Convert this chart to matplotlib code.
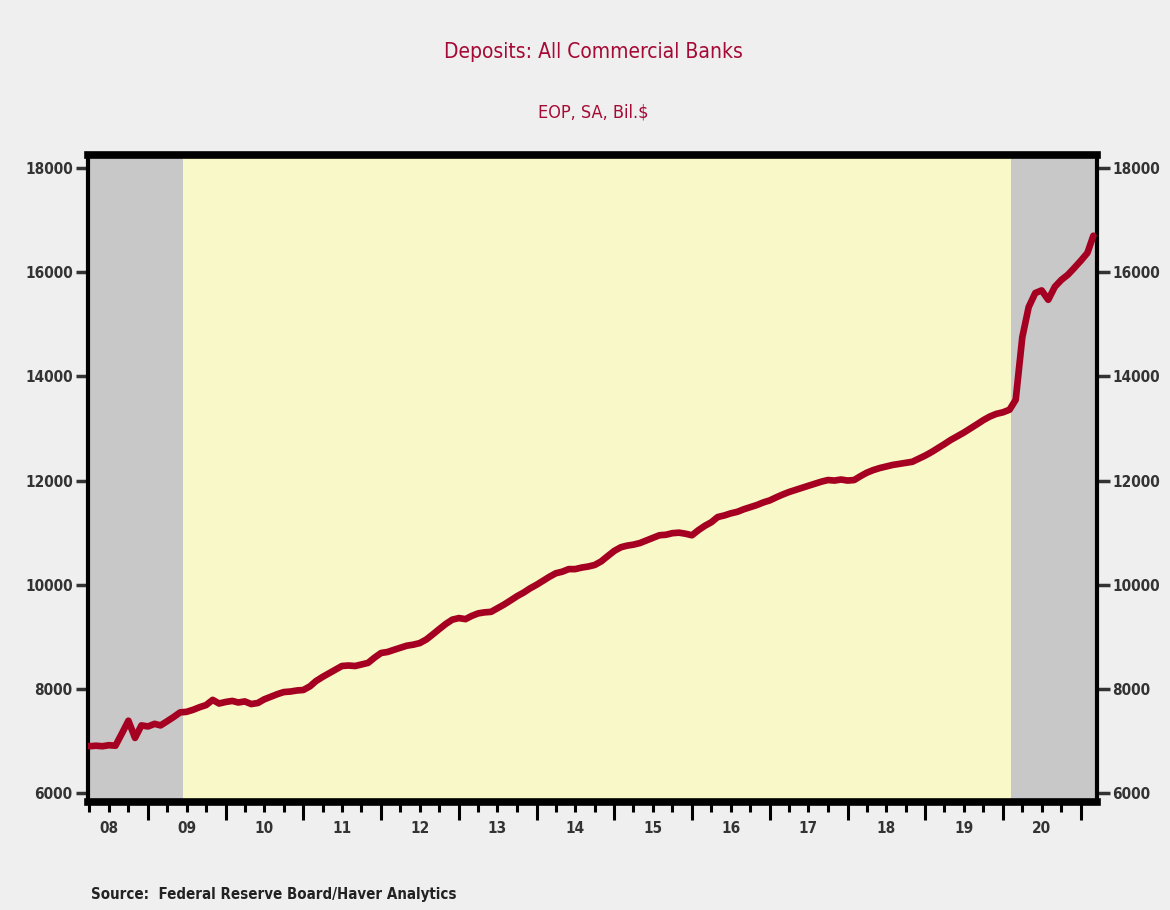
import matplotlib
matplotlib.use("Agg")
import matplotlib.pyplot as plt
import matplotlib.dates as mdates
import pandas as pd

# Monthly deposits, all commercial banks (EOP, SA, Bil.$), Mar 2008 - Mar 2021
start_month = "2008-03-01"
deposits = [
    # 2008 Mar-Dec
    6920, 6900, 6910, 6900, 6920, 6910, 7150, 7390, 7060, 7300,
    # 2009
    7280, 7330, 7300, 7380, 7460, 7550, 7560, 7600, 7650, 7690, 7790, 7720,
    # 2010
    7750, 7770, 7740, 7760, 7710, 7730, 7800, 7850, 7900, 7940, 7950, 7970,
    # 2011
    7980, 8050, 8150, 8230, 8300, 8370, 8440, 8450, 8440, 8470, 8500, 8600,
    # 2012
    8690, 8710, 8750, 8790, 8830, 8850, 8880, 8950, 9050, 9150, 9250, 9330,
    # 2013
    9360, 9340, 9400, 9450, 9470, 9480, 9550, 9620, 9700, 9780, 9850, 9930,
    # 2014
    10000, 10080, 10150, 10220, 10250, 10300, 10300, 10330, 10350, 10380, 10450, 10550,
    # 2015
    10650, 10720, 10750, 10770, 10800, 10850, 10900, 10950, 10960, 10990, 11000, 10980,
    # 2016
    10950, 11050, 11130, 11200, 11300, 11330, 11370, 11400, 11450, 11490, 11530, 11580,
    # 2017
    11620, 11680, 11730, 11780, 11820, 11860, 11900, 11940, 11980, 12010, 12000, 12020,
    # 2018
    12000, 12010, 12080, 12150, 12200, 12240, 12270, 12300, 12320, 12340, 12360, 12420,
    # 2019
    12480, 12550, 12620, 12700, 12780, 12850, 12920, 13000, 13080, 13160, 13230, 13280,
    # 2020
    13310, 13360, 13550, 14750, 15330, 15600, 15650, 15470, 15720, 15850, 15950, 16080,
    # 2021 Jan-Mar
    16220, 16370, 16700,
]

year_labels = ["08", "09", "10", "11", "12", "13", "14", "15", "16", "17", "18", "19", "20"]
y_ticks = [6000, 8000, 10000, 12000, 14000, 16000, 18000]

# Recession periods shaded in gray
recessions = [("2007-12-01", "2009-06-15"), ("2020-02-10", "2021-12-31")]

title_text = "Deposits: All Commercial Banks"
subtitle_text = "EOP, SA, Bil.$"
source_text = "Source:  Federal Reserve Board/Haver Analytics"

dates = pd.date_range(start_month, periods=len(deposits), freq="MS")

fig = plt.figure(figsize=(11.7, 9.1), dpi=100)
fig.patch.set_facecolor("#efefef")

ax = fig.add_axes([0.0752, 0.1187, 0.8624, 0.711])
ax.set_facecolor("#f9f8c8")

x_min = pd.Timestamp("2008-03-25")
x_max = pd.Timestamp("2021-03-18")

for r0, r1 in recessions:
    ax.axvspan(pd.Timestamp(r0), pd.Timestamp(r1), color="#c8c8c8", zorder=0, lw=0)

ax.plot(dates, deposits, color="#a50021", lw=4.8, solid_joinstyle="round",
        solid_capstyle="round", zorder=3, clip_on=True)

ax.set_xlim(x_min, x_max)
ax.set_ylim(5830, 18250)

# Spines: heavy black frame
for side, w in [("top", 5.5), ("bottom", 5.5), ("left", 3), ("right", 3)]:
    ax.spines[side].set_linewidth(w)
    ax.spines[side].set_color("black")

font_kw = dict(family="DejaVu Sans", stretch="condensed")

# Y axis on both sides
ax.set_yticks(y_ticks)
ax.set_yticklabels([str(v) for v in y_ticks])
ax.tick_params(axis="y", which="both", direction="out", length=9, width=2.5,
               left=True, right=True, labelleft=True, labelright=True,
               labelsize=11, colors="#333333", pad=2)
for lab in ax.get_yticklabels():
    lab.set_fontstretch("condensed")
    lab.set_fontweight("bold")

# X axis: year ticks long, quarter ticks short, labels at mid-year
ax.xaxis.set_major_locator(mdates.YearLocator())
ax.xaxis.set_minor_locator(mdates.MonthLocator(bymonth=[4, 7, 10]))
ax.xaxis.set_major_formatter(plt.NullFormatter())
ax.tick_params(axis="x", which="major", direction="out", length=13, width=2.2,
               color="black")
ax.tick_params(axis="x", which="minor", direction="out", length=7, width=2.2,
               color="black")

for i, lab in enumerate(year_labels):
    mid = pd.Timestamp(f"{2008 + i}-07-01")
    ax.text(mdates.date2num(mid), -0.03, lab, transform=ax.get_xaxis_transform(),
            ha="center", va="top", fontsize=11, color="#333333",
            fontweight="bold", **font_kw)

title_color = "#a50a35"
fig.text(0.507, 0.943, title_text, ha="center", va="center", fontsize=15,
         color=title_color, **font_kw)
fig.text(0.507, 0.876, subtitle_text, ha="center", va="center", fontsize=13,
         color=title_color, **font_kw)
fig.text(0.078, 0.009, source_text, ha="left", va="bottom", fontsize=10.8,
         color="#222222", fontweight="bold", **font_kw)

fig.savefig("out.png", dpi=100, facecolor=fig.get_facecolor())
